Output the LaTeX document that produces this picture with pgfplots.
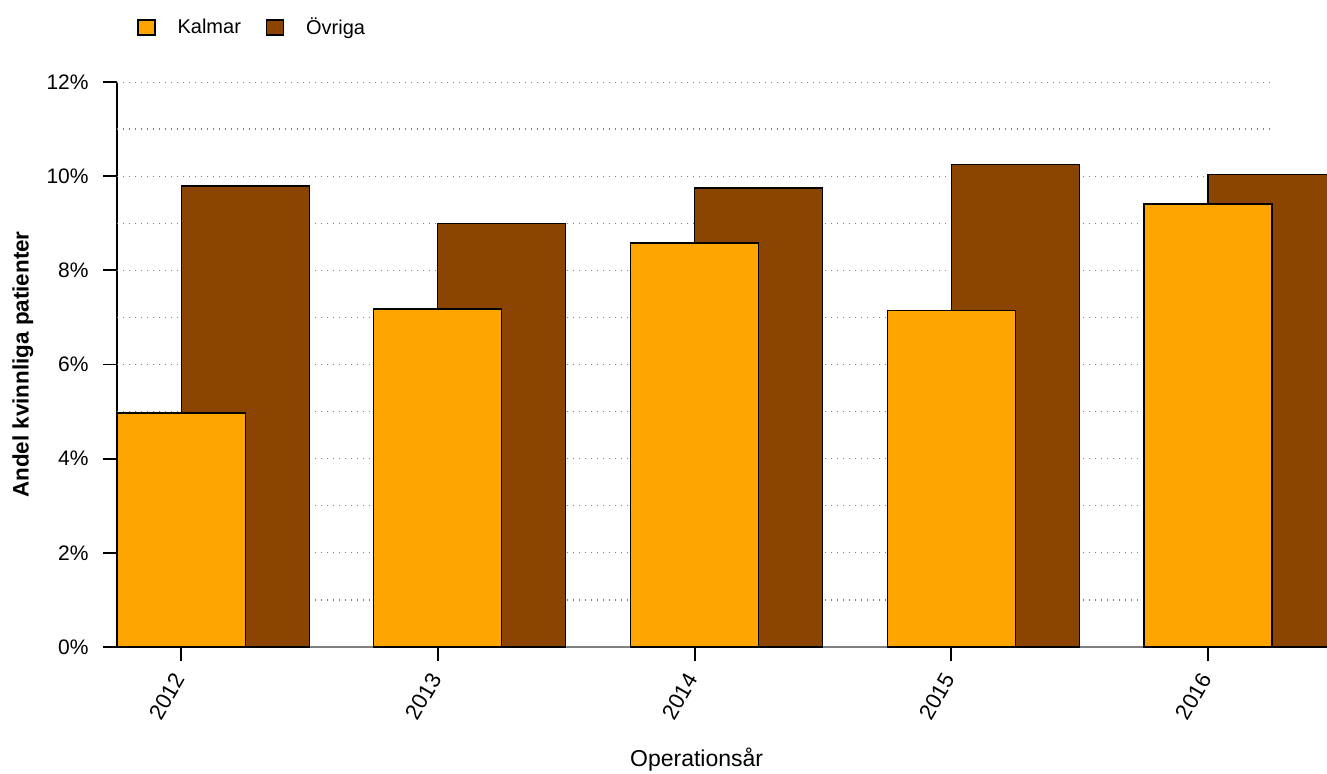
\documentclass[border=0pt]{standalone}
\usepackage{fontspec}
\setmainfont{Liberation Sans}
\usepackage{pgfplots}
\pgfplotsset{compat=1.18}
\definecolor{kalmar}{HTML}{FFA500}
\definecolor{ovriga}{HTML}{8B4500}
\begin{document}
\begin{tikzpicture}
\useasboundingbox (-58.5pt,-63pt) rectangle (605pt,323.5pt);
\begin{axis}[
  at={(0pt,0pt)}, anchor=south west,
  scale only axis, width=605pt, height=282.5pt,
  xmin=-0.25, xmax=4.4635, ymin=0, ymax=12,
  axis x line*=bottom, axis y line*=left,
  x axis line style={gray, line width=0.6pt, -},
  y axis line style={black, line width=0.9pt, -},
  tick align=outside, major tick length=7pt,
  tick style={black, line width=0.9pt},
  xtick={0,...,4}, xticklabels={2012,2013,2014,2015,2016},
  ytick={0,2,...,12},
  yticklabel={\pgfmathprintnumber{\tick}\%},
  /pgf/number format/assume math mode=true,
  tick label style={font=\fontsize{10.5}{12}\selectfont},
  xticklabel style={font=\fontsize{11}{12}\selectfont, xshift=-0.5pt, yshift=-6pt, rotate=60, anchor=east, inner sep=1pt},
  yticklabel style={anchor=east, inner sep=0pt, xshift=-7pt},
  xlabel={Operationsår}, ylabel={Andel kvinnliga patienter},
  every axis x label/.style={at={(axis description cs:0.479,-0.2)}, anchor=center, font=\fontsize{11.5}{13}\selectfont},
  every axis y label/.style={at={(axis description cs:-0.0777,0.5)}, rotate=90, anchor=center, font=\fontsize{11.2}{13}\selectfont\bfseries},
  legend style={at={(axis description cs:0.01653,1.0965)}, anchor=west, draw=none, fill=none, inner sep=0pt,
    font=\fontsize{10}{12}\selectfont,
    /tikz/every odd column/.style={column sep=9pt},
    /tikz/every even column/.style={column sep=10.5pt}},
  legend columns=2,
  legend image code/.code={\draw[#1,draw=black,line width=0.6pt] (0pt,-3.75pt) rectangle (8.5pt,3.75pt);},
]
\pgfplotsinvokeforeach{1,...,12}{
  \draw[gray, line width=0.6pt, dash pattern=on 0.6pt off 2.4pt] (axis cs:-0.25,#1) -- (axis cs:4.24,#1);
}
\addplot[ybar, bar width=64pt, bar shift=32pt, fill=ovriga, draw=black, line width=0.6pt, forget plot]
  coordinates {(0,9.79) (1,9.00) (2,9.75) (3,10.24) (4,10.03)};
\addplot[ybar, bar width=64pt, bar shift=0pt, fill=kalmar, draw=black, line width=0.6pt, forget plot]
  coordinates {(0,4.97) (1,7.18) (2,8.58) (3,7.14) (4,9.41)};
\addlegendimage{fill=kalmar}
\addlegendentry{Kalmar}
\addlegendimage{fill=ovriga}
\addlegendentry{Övriga}
\end{axis}
\end{tikzpicture}
\end{document}
